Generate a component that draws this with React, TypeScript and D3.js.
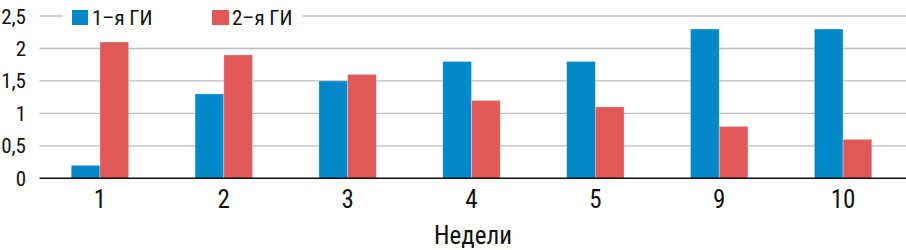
import React from "react";
import * as d3 from "d3";

const categories = ["1", "2", "3", "4", "5", "9", "10"];
const series1 = [0.2, 1.3, 1.5, 1.8, 1.8, 2.3, 2.3];
const series2 = [2.1, 1.9, 1.6, 1.2, 1.1, 0.8, 0.6];
const seriesNames = ["1–я ГИ", "2–я ГИ"];
const yTicks = [0, 0.5, 1, 1.5, 2, 2.5];
const yTickLabels = ["0", "0,5", "1", "1,5", "2", "2,5"];
const xTitle = "Недели";

const W = 906;
const H = 250;
const FONT = "'Roboto Condensed', 'Liberation Sans Narrow', Roboto, sans-serif";
const SX = 1;
const BLUE = "#0088C9";
const RED = "#E05858";

export default function App() {
  const x = d3.scaleBand<string>().domain(categories).range([38, 905]).paddingInner(0).paddingOuter(0);
  const y = d3.scaleLinear().domain([0, 2.5]).range([178.3, 16]);
  const bw = x.bandwidth() * 0.232;
  const cx = (c: string) => (x(c) as number) + x.bandwidth() / 2;

  const CText = (p: { x: number; y: number; size: number; anchor: string; children: any }) => (
    <text
      transform={`translate(${p.x},${p.y}) scale(${SX},1)`}
      fontSize={p.size}
      textAnchor={p.anchor as any}
      fontFamily={FONT}
      fill="#111"
    >
      {p.children}
    </text>
  );

  return (
    <svg width={W} height={H} style={{ position: "absolute", left: 0, top: 0 }}>
      <rect width={W} height={H} fill="#fff" />
      {yTicks.map((t, i) =>
        i === 0 ? null : (
          <line key={t} x1={39.5} x2={W} y1={y(t)} y2={y(t)} stroke="#BDBDBD" strokeWidth={1.4} />
        )
      )}
      {yTicks.map((t, i) => (
        <CText key={"yl" + t} x={26} y={y(t) + 7.5} size={21} anchor="end">
          {yTickLabels[i]}
        </CText>
      ))}
      {categories.map((c, i) => (
        <g key={c}>
          <rect x={cx(c) - bw} y={y(series1[i])} width={bw} height={y(0) - y(series1[i])} fill={BLUE} stroke="#fff" strokeOpacity={0.4} strokeWidth={0.8} />
          <rect x={cx(c)} y={y(series2[i])} width={bw} height={y(0) - y(series2[i])} fill={RED} stroke="#fff" strokeOpacity={0.4} strokeWidth={0.8} />
          <CText x={cx(c)} y={208} size={25} anchor="middle">
            {c}
          </CText>
        </g>
      ))}
      <line x1={39.5} x2={W} y1={y(0)} y2={y(0)} stroke="#111" strokeWidth={1.5} />
      <rect x={63} y={3} width={240} height={26} fill="#fff" />
      <rect x={72} y={10} width={16} height={15} fill={BLUE} />
      <CText x={92} y={25} size={21} anchor="start">
        {seriesNames[0]}
      </CText>
      <rect x={212} y={10} width={17} height={15} fill={RED} />
      <CText x={232} y={25} size={21} anchor="start">
        {seriesNames[1]}
      </CText>
      <CText x={473} y={244} size={25} anchor="middle">
        {xTitle}
      </CText>
    </svg>
  );
}
